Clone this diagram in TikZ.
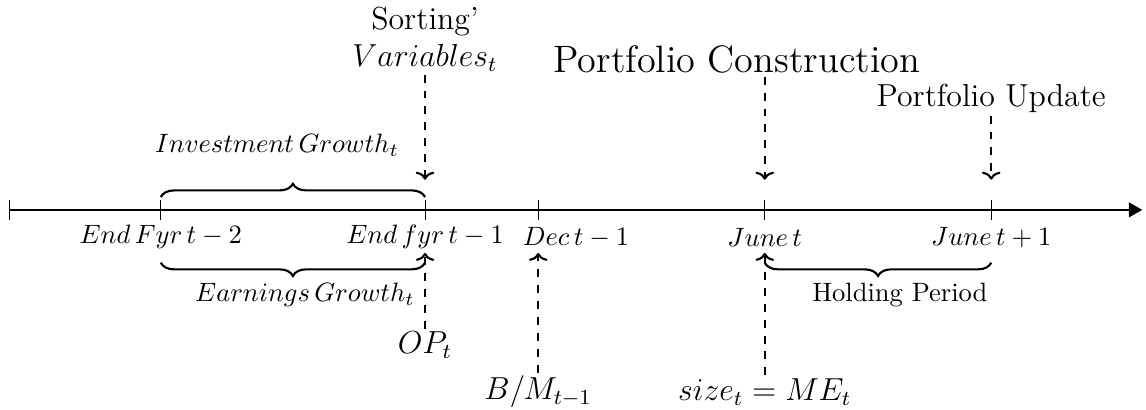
\documentclass[tikz,border=0pt]{standalone}
\usepackage{amsmath}
\usetikzlibrary{arrows.meta,positioning,calc,decorations.pathreplacing}
\tikzset{
  tickmark/.style={thin},
  ticklab/.style={font=\normalsize, inner sep=0pt},
  evt/.style={font=\large, align=center, inner sep=1pt},
  brlab/.style={font=\normalsize, inner sep=1pt},
  darr/.style={thick, dashed, -{To[length=3pt,width=7pt]}},
  brc/.style={thick, decorate, decoration={brace, amplitude=5pt}},
}
\begin{document}
\begin{tikzpicture}
  \useasboundingbox (-0.13,-2.65) rectangle (15.05,2.78);
  % time line
  \coordinate (t0) at (0,0);
  \coordinate (fy2) at (2,0);
  \coordinate (fy1) at (5.5,0);
  \coordinate (dec) at (7,0);
  \coordinate (jun) at (10,0);
  \coordinate (jun1) at (13,0);
  \coordinate (tend) at (15,0);
  \draw[thick, -{Triangle[length=5pt,width=5.5pt]}] (t0) -- (tend);
  \foreach \p in {t0,fy2,fy1,dec,jun,jun1}
    \draw[tickmark] ($(\p)+(0,0.13)$) -- ($(\p)+(0,-0.13)$);
  \node[ticklab] (lfy2) at (2,-0.36) {$End\,Fyr\,t-2$};
  \node[ticklab] (lfy1) at (5.5,-0.36) {$End\,fyr\,t-1$};
  \node[ticklab] (ldec) at (7.5,-0.36) {$Dec\,t-1$};
  \node[ticklab] (ljun) at (10,-0.36) {$June\,t$};
  \node[ticklab] (ljun1) at (13,-0.36) {$June\,t+1$};
  % braces
  \draw[brc] (2,0.17) -- (5.5,0.17);
  \node[brlab] (ig) at (3.54,0.86) {$Investment\,Growth_t$};
  \draw[brc] (5.5,-0.7) -- (2,-0.7);
  \node[brlab] (eg) at (3.91,-1.13) {$Earnings\,Growth_t$};
  \draw[brc] (13,-0.7) -- (10,-0.7);
  \node[brlab] (hp) at (11.79,-1.13) {Holding Period};
  % events above
  \node[evt] (sv) at (5.5,2.26) {Sorting'\\$Variables_t$};
  \node[evt, font=\Large] (pc) at (9.63,1.99) {Portfolio Construction};
  \node[evt] (pu) at (13,1.48) {Portfolio Update};
  \draw[darr] (sv.south -| fy1) -- ($(fy1)+(0,0.4)$);
  \draw[darr] (pc.south -| jun) -- ($(jun)+(0,0.4)$);
  \draw[darr] (pu.south -| jun1) -- ($(jun1)+(0,0.4)$);
  % variables below
  \node[evt] (op) at (5.5,-1.79) {$OP_t$};
  \node[evt] (bm) at (7,-2.41) {$B/M_{t-1}$};
  \node[evt] (me) at (10,-2.41) {$size_t=ME_t$};
  \draw[darr] (op.north -| fy1) -- ($(fy1)+(0,-0.57)$);
  \draw[darr] (bm.north -| dec) -- ($(dec)+(0,-0.57)$);
  \draw[darr] (me.north -| jun) -- ($(jun)+(0,-0.57)$);
\end{tikzpicture}
\end{document}
